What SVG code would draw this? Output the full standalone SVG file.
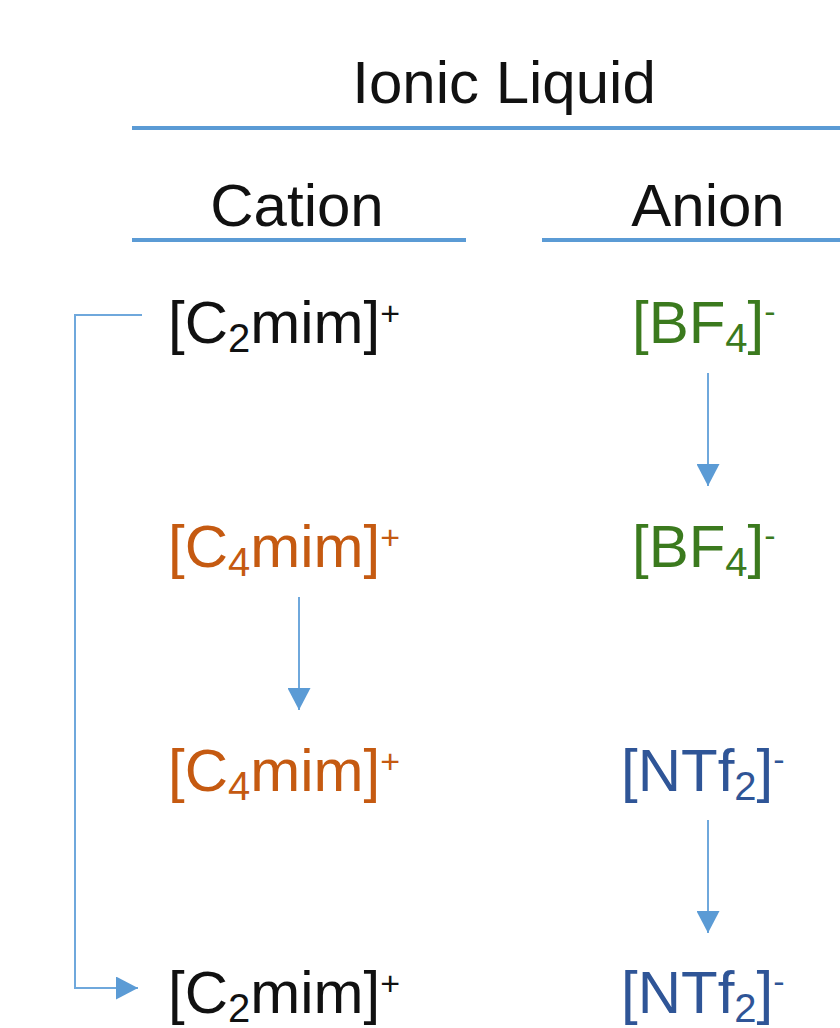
<svg xmlns="http://www.w3.org/2000/svg" width="840" height="1028" viewBox="0 0 840 1028">
  <style>
    text { font-family: "Liberation Sans", Arial, sans-serif; font-size: 60px; fill: #111111; }
    .sub { font-size: 40px; }
    .sup { font-size: 34px; }
    .orange { fill: #C55A11; }
    .green { fill: #3B7A1E; }
    .blue { fill: #2F5597; }
    .rule { stroke: #5B9BD5; stroke-width: 4; fill: none; }
    .conn { stroke: #6FA8DC; stroke-width: 2; fill: none; }
  </style>
  <defs>
    <marker id="arrow" markerUnits="userSpaceOnUse" markerWidth="23" markerHeight="23" refX="22" refY="11.5" orient="auto">
      <path d="M0,0 L22,11.5 L0,23 Z" fill="#5B9BD5"/>
    </marker>
  </defs>
  <rect width="840" height="1028" fill="#FFFFFF"/>

  <g id="header-ionic-liquid">
    <text x="504" y="103" text-anchor="middle">Ionic Liquid</text>
    <line class="rule" x1="132" y1="128" x2="840" y2="128"/>
  </g>
  <g id="header-cation">
    <text x="297" y="226" text-anchor="middle">Cation</text>
    <line class="rule" x1="132" y1="240" x2="466" y2="240"/>
  </g>
  <g id="header-anion">
    <text x="708" y="226" text-anchor="middle">Anion</text>
    <line class="rule" x1="542" y1="240" x2="840" y2="240"/>
  </g>

  <g id="cation-1">
    <text x="168" y="343">[C<tspan class="sub" dy="9">2</tspan><tspan dy="-9">mim]</tspan><tspan class="sup" dy="-18">+</tspan></text>
  </g>
  <g id="anion-1">
    <text class="green" x="632" y="343">[BF<tspan class="sub" dy="9">4</tspan><tspan dy="-9">]</tspan><tspan class="sup" dy="-20">-</tspan></text>
  </g>

  <g id="cation-2">
    <text class="orange" x="168" y="567">[C<tspan class="sub" dy="9">4</tspan><tspan dy="-9">mim]</tspan><tspan class="sup" dy="-18">+</tspan></text>
  </g>
  <g id="anion-2">
    <text class="green" x="632" y="567">[BF<tspan class="sub" dy="9">4</tspan><tspan dy="-9">]</tspan><tspan class="sup" dy="-20">-</tspan></text>
  </g>

  <g id="cation-3">
    <text class="orange" x="168" y="791">[C<tspan class="sub" dy="9">4</tspan><tspan dy="-9">mim]</tspan><tspan class="sup" dy="-18">+</tspan></text>
  </g>
  <g id="anion-3">
    <text class="blue" x="621" y="791">[NTf<tspan class="sub" dy="9">2</tspan><tspan dy="-9">]</tspan><tspan class="sup" dy="-20">-</tspan></text>
  </g>

  <g id="cation-4">
    <text x="168" y="1013">[C<tspan class="sub" dy="9">2</tspan><tspan dy="-9">mim]</tspan><tspan class="sup" dy="-18">+</tspan></text>
  </g>
  <g id="anion-4">
    <text class="blue" x="621" y="1013">[NTf<tspan class="sub" dy="9">2</tspan><tspan dy="-9">]</tspan><tspan class="sup" dy="-20">-</tspan></text>
  </g>

  <g id="connectors">
    <line class="conn" x1="708" y1="373" x2="708" y2="486" marker-end="url(#arrow)"/>
    <line class="conn" x1="299" y1="597" x2="299" y2="710" marker-end="url(#arrow)"/>
    <line class="conn" x1="708" y1="820" x2="708" y2="933" marker-end="url(#arrow)"/>
    <polyline class="conn" points="142,315 75,315 75,988 138,988" marker-end="url(#arrow)"/>
  </g>
</svg>
